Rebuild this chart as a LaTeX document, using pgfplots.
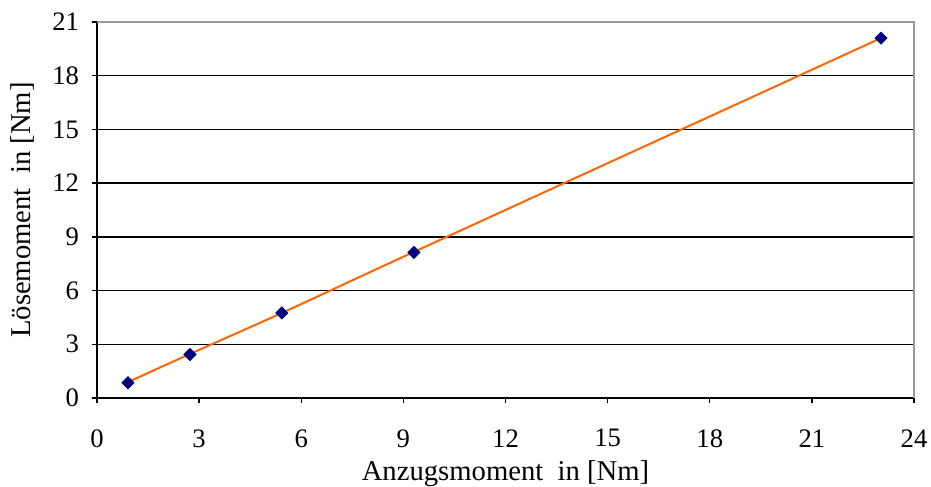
\documentclass[border=0pt]{standalone}
\usepackage{pgfplots}
\pgfplotsset{compat=1.18}
\usepackage{fontspec}
\setmainfont{Liberation Serif}
\definecolor{navy}{RGB}{0,0,128}
\definecolor{trend}{RGB}{255,102,0}
\newcommand{\tickf}{\fontsize{20pt}{23pt}\selectfont}
\newcommand{\labf}{\fontsize{21.5pt}{25pt}\selectfont}
\begin{document}
\begin{tikzpicture}
\begin{axis}[
  at={(0,0)}, anchor=south west,
  scale only axis,
  width=612.75pt, height=282pt,
  xmin=0, xmax=24, ymin=0, ymax=21,
  xtick={0,3,...,24}, ytick={0,3,...,21},
  tick align=outside,
  major tick length=4pt,
  axis x line*=bottom, axis y line*=left,
  ymajorgrids,
  grid style={black, line width=1pt},
  axis line style={black, line width=1pt},
  tick style={black, line width=1pt},
  /pgf/number format/assume math mode=true,
  tick label style={font=\tickf},
  xticklabel style={yshift=-16pt},
  yticklabel style={xshift=-6pt},
  every axis label/.append style={font=\labf},
  xlabel={Anzugsmoment\ \ in [Nm]},
  ylabel={Lösemoment\ \ in [Nm]},
  xlabel style={yshift=-3pt},
  ylabel style={yshift=6.5pt},
  clip=false,
]
\draw[gray!80, line width=1.5pt] (axis cs:0,21) -- (axis cs:24,21) -- (axis cs:24,0);
\addplot[trend, line width=1.5pt, smooth, tension=0.4, no marks] coordinates {
 (0.91,0.89) (2.73,2.46) (5.43,4.75) (9.31,8.16) (23.03,20.1)
};
\addplot[only marks, mark=square*, mark size=3.3pt, mark options={rotate=45, fill=navy, draw=navy}] coordinates {
 (0.91,0.85) (2.73,2.43) (5.43,4.75) (9.31,8.13) (23.03,20.1)
};
\end{axis}
\pgfresetboundingbox
\path (-72.75pt,-66pt) rectangle (625.5pt,298.5pt);
\end{tikzpicture}
\end{document}
